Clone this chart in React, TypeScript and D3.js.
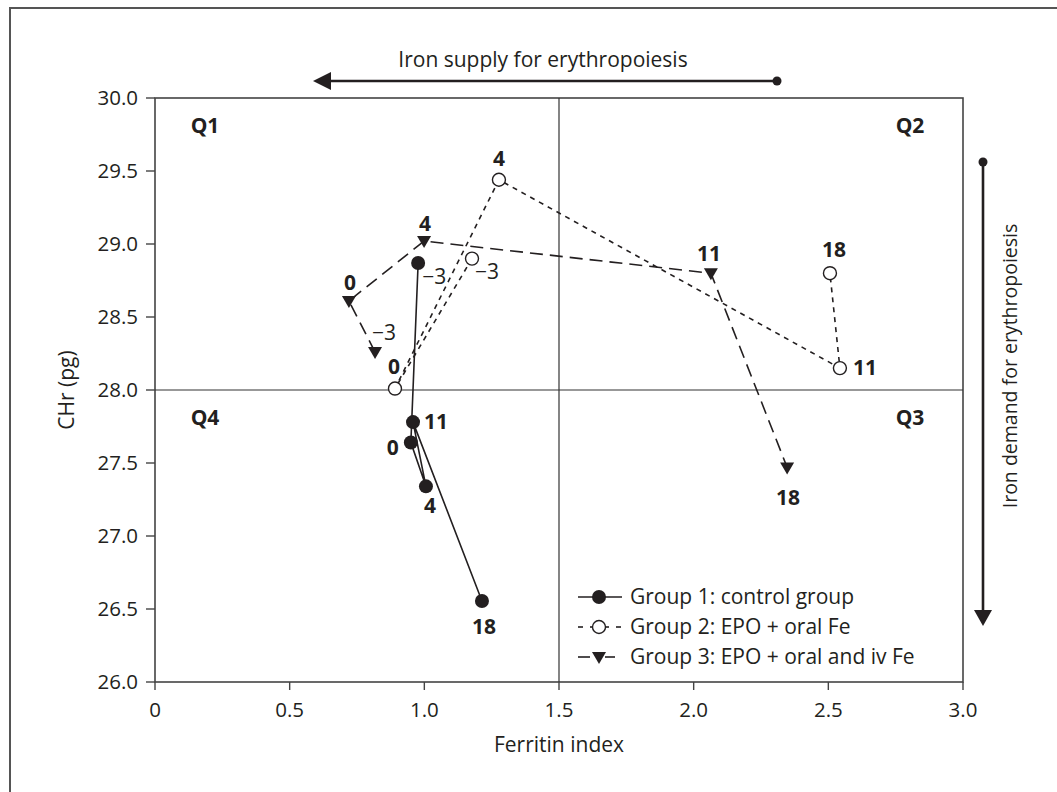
import React from "react";
import * as d3 from "d3";

// ---- Data ----
const weekLabels = ["\u22123", "0", "4", "11", "18"];
const group1X = [0.977, 0.95, 1.006, 0.958, 1.214];
const group1Y = [28.87, 27.64, 27.34, 27.78, 26.555];
const group2X = [1.177, 0.891, 1.277, 2.543, 2.506];
const group2Y = [28.9, 28.01, 29.44, 28.15, 28.8];
const group3X = [0.817, 0.72, 0.999, 2.064, 2.347];
const group3Y = [28.26, 28.61, 29.02, 28.8, 27.47];
const groupNames = [
  "Group 1: control group",
  "Group 2: EPO + oral Fe",
  "Group 3: EPO + oral and iv Fe",
];
const xTicks = [0, 0.5, 1.0, 1.5, 2.0, 2.5, 3.0];
const xTickLabels = ["0", "0.5", "1.0", "1.5", "2.0", "2.5", "3.0"];
const yTicks = [26.0, 26.5, 27.0, 27.5, 28.0, 28.5, 29.0, 29.5, 30.0];
const quadrantLabels = ["Q1", "Q2", "Q3", "Q4"];

// ---- label placement (styling, offsets in px: [dx, dy, anchor]) ----
const labelOffsets: [number, number, string][][] = [
  [[4, 14, "start"], [-12, 5, "end"], [4, 19, "middle"], [11, 0, "start"], [2, 26, "middle"]],
  [[3, 13, "start"], [-1, -22, "middle"], [0, -21, "middle"], [13, 0, "start"], [4, -24, "middle"]],
  [[-3, -19, "start"], [1, -18, "middle"], [1, -17, "middle"], [-2, -20, "middle"], [1, 30, "middle"]],
];

const INK = "#231f20";
const FONT = "'Open Sans', 'Noto Sans', sans-serif";

export default function App() {
  const W = 1057;
  const H = 792;
  const x = d3.scaleLinear().domain([0, 3]).range([155, 963]);
  const y = d3.scaleLinear().domain([26, 30]).range([682, 98]);

  const groups = [
    { xs: group1X, ys: group1Y, dash: "none", marker: "filled" },
    { xs: group2X, ys: group2Y, dash: "5,5", marker: "open" },
    { xs: group3X, ys: group3Y, dash: "13,7", marker: "tri" },
  ];

  const line = d3
    .line<[number, number]>()
    .x((d) => x(d[0]))
    .y((d) => y(d[1]));

  const tri = "M-7,-5L7,-5L0,7Z";

  const renderMarker = (kind: string, cx: number, cy: number, key: string) => {
    if (kind === "filled")
      return <circle key={key} cx={cx} cy={cy} r={7} fill={INK} />;
    if (kind === "open")
      return (
        <circle key={key} cx={cx} cy={cy} r={6.5} fill="#fff" stroke={INK} strokeWidth={1.4} />
      );
    return <path key={key} d={tri} transform={`translate(${cx},${cy})`} fill={INK} />;
  };

  const x0 = x(0), x3 = x(3), yTop = y(30), yBot = y(26);

  return (
    <svg width={W} height={H} style={{ position: "absolute", left: 0, top: 0 }} fontFamily={FONT}>
      <rect x={0} y={0} width={W} height={H} fill="#fff" />
      {/* outer frame */}
      <rect x={10} y={8} width={W + 20} height={H + 20} fill="none" stroke="#555" strokeWidth={2} />

      {/* plot box */}
      <rect x={x0} y={yTop} width={x3 - x0} height={yBot - yTop} fill="none" stroke="#444" strokeWidth={1.6} />
      {/* quadrant lines */}
      <line x1={x(1.5)} x2={x(1.5)} y1={yTop} y2={yBot} stroke="#333" strokeWidth={1.2} />
      <line x1={x0} x2={x3} y1={y(28)} y2={y(28)} stroke="#333" strokeWidth={1.2} />

      {/* y ticks */}
      {yTicks.map((t) => (
        <g key={"y" + t}>
          <line x1={x0 - 9} x2={x0} y1={y(t)} y2={y(t)} stroke="#444" strokeWidth={1.4} />
          <text x={x0 - 17} y={y(t)} dy="0.35em" textAnchor="end" fontSize={20.5} fill={INK}>
            {t.toFixed(1)}
          </text>
        </g>
      ))}
      {/* x ticks */}
      {xTicks.map((t, i) => (
        <g key={"x" + t}>
          <line x1={x(t)} x2={x(t)} y1={yBot} y2={yBot + 8} stroke="#444" strokeWidth={1.4} />
          <text x={x(t)} y={yBot + 28} dy="0.35em" textAnchor="middle" fontSize={20.5} fill={INK}>
            {xTickLabels[i]}
          </text>
        </g>
      ))}

      {/* axis titles */}
      <text x={(x0 + x3) / 2} y={745} dy="0.35em" textAnchor="middle" fontSize={21} fill={INK}>
        Ferritin index
      </text>
      <text
        transform={`translate(67,${(yTop + yBot) / 2}) rotate(-90)`}
        dy="0.35em"
        textAnchor="middle"
        fontSize={21}
        fill={INK}
      >
        CHr (pg)
      </text>

      {/* top arrow */}
      <text x={543} y={60} dy="0.35em" textAnchor="middle" fontSize={21} fill={INK}>
        Iron supply for erythropoiesis
      </text>
      <line x1={328} x2={777} y1={81} y2={81} stroke={INK} strokeWidth={2.6} />
      <path d="M313,81L331,72L331,90Z" fill={INK} />
      <circle cx={777} cy={81} r={4.5} fill={INK} />

      {/* right arrow */}
      <line x1={983} x2={983} y1={162} y2={612} stroke={INK} strokeWidth={2.6} />
      <path d="M983,626L974,610L992,610Z" fill={INK} />
      <circle cx={983} cy={162} r={4.5} fill={INK} />
      <text
        transform={`translate(1010,366) rotate(-90)`}
        dy="0.35em"
        textAnchor="middle"
        fontSize={19.5}
        fill={INK}
      >
        Iron demand for erythropoiesis
      </text>

      {/* quadrant labels */}
      {quadrantLabels.map((q, i) => {
        const px = i === 0 || i === 3 ? 205 : 910;
        const py = i < 2 ? 126 : 418;
        return (
          <text key={q} x={px} y={py} dy="0.35em" textAnchor="middle" fontSize={21} fontWeight="bold" fill={INK}>
            {q}
          </text>
        );
      })}

      {/* series lines */}
      {groups.map((g, gi) => (
        <path
          key={"l" + gi}
          d={line(g.xs.map((v, i) => [v, g.ys[i]] as [number, number])) || ""}
          fill="none"
          stroke={INK}
          strokeWidth={1.6}
          strokeDasharray={g.dash}
        />
      ))}
      {/* markers */}
      {groups.map((g, gi) =>
        g.xs.map((v, i) => renderMarker(g.marker, x(v), y(g.ys[i]), `m${gi}-${i}`))
      )}
      {/* point labels */}
      {groups.map((g, gi) =>
        g.xs.map((v, i) => {
          const [dx, dy, anchor] = labelOffsets[gi][i];
          const isMinus = i === 0;
          return (
            <text
              key={`t${gi}-${i}`}
              x={x(v) + dx}
              y={y(g.ys[i]) + dy}
              dy="0.35em"
              textAnchor={anchor}
              fontSize={21}
              fontWeight={isMinus ? "normal" : "bold"}
              fill={INK}
            >
              {weekLabels[i]}
            </text>
          );
        })
      )}

      {/* legend */}
      {groups.map((g, gi) => {
        const ly = 597 + gi * 30;
        return (
          <g key={"lg" + gi}>
            {gi === 0 && <line x1={578} x2={622} y1={ly} y2={ly} stroke={INK} strokeWidth={1.6} />}
            {gi === 1 && (
              <>
                <line x1={578} x2={583} y1={ly} y2={ly} stroke={INK} strokeWidth={1.6} />
                <line x1={590} x2={595} y1={ly} y2={ly} stroke={INK} strokeWidth={1.6} />
                <line x1={604} x2={609} y1={ly} y2={ly} stroke={INK} strokeWidth={1.6} />
                <line x1={616} x2={621} y1={ly} y2={ly} stroke={INK} strokeWidth={1.6} />
              </>
            )}
            {gi === 2 && (
              <>
                <line x1={578} x2={590} y1={ly} y2={ly} stroke={INK} strokeWidth={1.6} />
                <line x1={605} x2={615} y1={ly} y2={ly} stroke={INK} strokeWidth={1.6} />
              </>
            )}
            {renderMarker(g.marker, 599, ly, "lm" + gi)}
            <text x={630} y={ly} dy="0.35em" fontSize={21} fill={INK}>
              {groupNames[gi]}
            </text>
          </g>
        );
      })}
    </svg>
  );
}
